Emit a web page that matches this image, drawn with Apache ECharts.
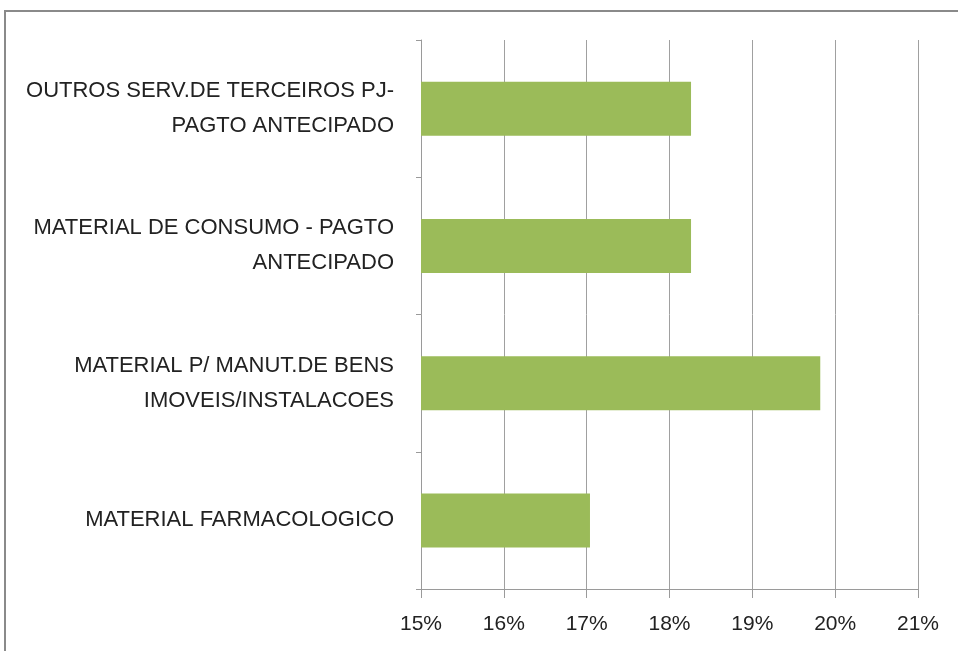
<!DOCTYPE html>
<html>
<head>
<meta charset="utf-8">
<script src="https://cdn.jsdelivr.net/npm/echarts@6/dist/echarts.min.js"></script>
<style>
  html, body { margin: 0; padding: 0; background: #fff; }
  #chart { width: 958px; height: 651px; }
</style>
</head>
<body>
<div id="chart"></div>
<script>
// categorias (de cima para baixo)
const categories = [
  'OUTROS SERV.DE TERCEIROS PJ-\nPAGTO ANTECIPADO',
  'MATERIAL DE CONSUMO - PAGTO\nANTECIPADO',
  'MATERIAL P/ MANUT.DE BENS\nIMOVEIS/INSTALACOES',
  'MATERIAL FARMACOLOGICO'
]
// percentuais
const values = [18.26, 18.26, 19.82, 17.04]
const tickMin = 15
const tickMax = 21

const chart = echarts.init(document.getElementById('chart'))

const font = 'Liberation Sans'

chart.setOption({
  animation: false,
  grid: { left: 421, right: 40, top: 40, bottom: 62 },
  graphic: [
    {
      type: 'rect',
      shape: { x: 5, y: 11, width: 1000, height: 1000 },
      style: { fill: 'none', stroke: '#8a8a8a', lineWidth: 2 },
      silent: true
    }
  ],
  xAxis: {
    type: 'value',
    min: tickMin,
    max: tickMax,
    interval: 1,
    axisLine: { show: true, lineStyle: { color: '#9a9a9a', width: 1 } },
    axisTick: { show: true, length: 9, lineStyle: { color: '#9a9a9a' } },
    splitLine: { show: true, lineStyle: { color: '#a0a0a0', width: 1 } },
    axisLabel: {
      formatter: '{value}%',
      color: '#222',
      fontFamily: font,
      fontSize: 21,
      margin: 25
    }
  },
  yAxis: {
    type: 'category',
    inverse: true,
    data: categories,
    axisLine: { show: true, lineStyle: { color: '#9a9a9a', width: 1 } },
    axisTick: { show: true, length: 5, lineStyle: { color: '#9a9a9a' } },
    splitLine: { show: false },
    axisLabel: {
      color: '#222',
      fontFamily: font,
      fontSize: 22,
      lineHeight: 35,
      margin: 27,
      align: 'right'
    }
  },
  series: [
    {
      type: 'bar',
      data: values,
      barWidth: 54,
      itemStyle: { color: '#9bbb59' }
    }
  ]
})
</script>
</body>
</html>
